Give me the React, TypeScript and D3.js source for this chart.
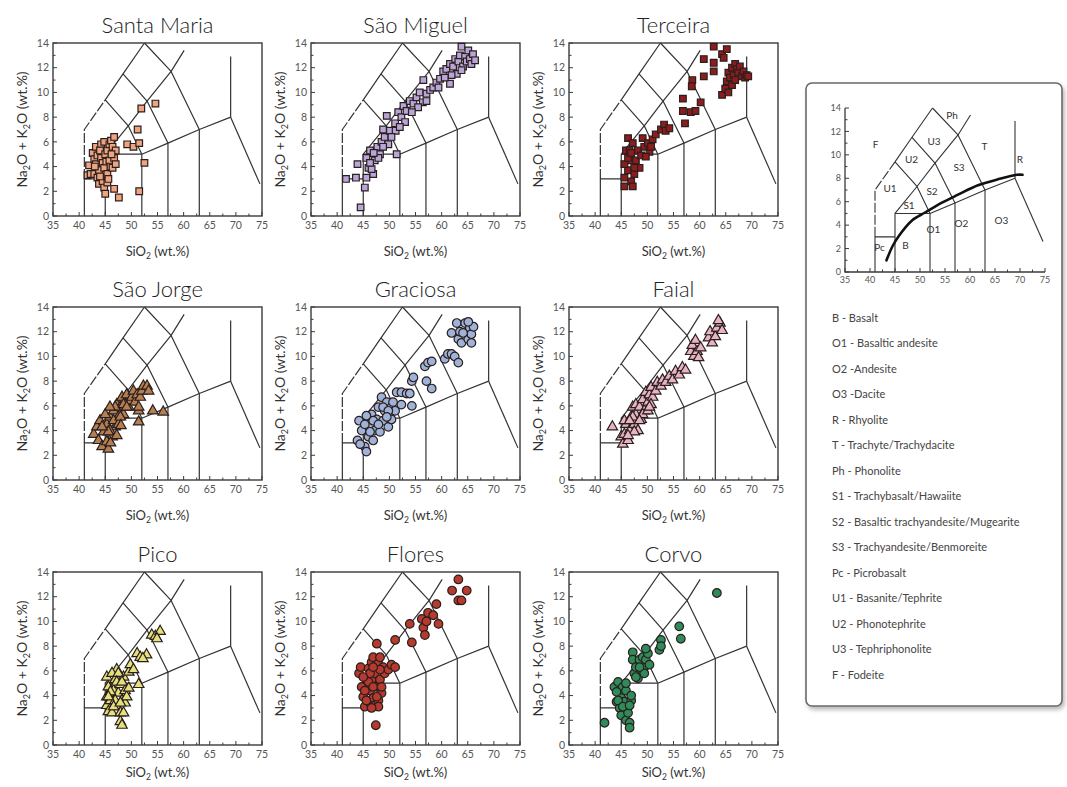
import React from 'react';
import * as d3 from 'd3';

type P = [number, number];

// ---------- DATA (SiO2 wt.%, Na2O+K2O wt.%) ----------
const santaMaria: P[] = [
  [41.6,3.3],[41.9,4.1],[42.2,3.4],[42.6,5.1],[42.9,4.6],[42.9,3.4],[43.2,5.6],[43.2,4.2],[43.5,4.9],[43.5,3.1],
  [43.8,3.7],[43.8,2.6],[44.2,5.8],[44.2,4.7],[44.0,5.3],[44.5,2.8],[44.5,4.3],[44.8,6.0],[44.8,3.9],[44.8,2.3],
  [45.0,5.0],[45.2,4.4],[45.4,5.3],[45.4,3.4],[45.4,2.7],[45.6,3.0],[45.8,4.5],[45.8,5.8],[46.1,6.1],[46.0,4.0],
  [46.4,5.6],[46.4,3.9],[46.7,6.4],[46.7,4.7],[47.0,5.3],[47.0,4.2],[46.2,5.0],[45.0,1.8],[46.7,2.2],[47.6,1.5],
  [49.2,5.8],[50.4,5.6],[51.5,5.9],[51.2,7.0],[51.9,8.7],[54.6,9.1],[52.5,4.3],[51.5,2.0],[43.0,4.0],[44.0,3.2]
];
const saoMiguel: P[] = [
  [41.7,3.0],[43.6,3.1],[43.9,4.2],[44.5,0.7],[45.3,2.3],[45.6,4.7],[46.0,3.9],[46.3,5.3],[46.9,3.4],[47.2,4.5],
  [47.7,5.6],[48.2,5.0],[48.5,6.0],[49.1,6.4],[49.5,8.1],[48.8,7.0],[49.8,5.8],[50.1,6.9],[51.1,7.5],[51.2,6.9],
  [51.4,5.0],[51.7,8.4],[52.3,8.0],[52.7,8.9],[53.3,8.5],[53.9,9.3],[54.6,9.1],[55.2,9.6],[55.8,10.0],[56.4,9.2],
  [56.5,11.0],[57.1,9.9],[57.8,10.2],[58.4,10.4],[59.0,10.8],[59.7,11.1],[60.3,11.7],[60.9,11.9],[61.6,10.7],[61.6,12.3],
  [62.2,12.1],[62.6,12.7],[62.9,11.5],[63.2,12.5],[63.5,13.0],[63.8,13.7],[64.1,12.1],[64.5,12.9],[64.8,12.5],[65.1,13.4],
  [65.4,12.7],[65.7,12.3],[66.0,13.1],[66.4,12.6],[63.8,11.8],[61.9,11.4],[60.6,11.2],[59.4,10.4],[57.1,9.3],[55.5,8.8],
  [54.3,8.4],[53.0,7.6],[52.0,7.2],[50.4,6.4],[48.8,5.6],[47.9,4.7],[46.6,3.8],[45.6,3.1],[46.3,4.3],[47.0,5.1]
];
const terceira: P[] = [
  [45.6,2.4],[46.3,6.3],[45.9,5.3],[46.6,4.5],[46.3,3.7],[46.9,2.8],[47.2,2.4],[47.5,3.4],[45.6,4.2],[45.6,3.1],
  [47.8,4.5],[48.2,5.3],[48.5,3.9],[48.8,4.9],[49.1,6.3],[49.4,5.6],[50.1,5.9],[50.4,5.2],[51.0,6.2],[51.6,6.6],
  [52.6,7.0],[53.2,7.4],[53.5,6.9],[54.2,7.1],[46.6,5.3],[47.2,5.9],[49.7,4.8],[50.7,5.6],[47.5,3.9],[46.3,4.7],
  [46.9,5.1],
  [56.8,9.5],[56.8,8.5],[57.2,7.5],[58.3,8.4],[58.6,11.0],[58.5,10.5],[59.2,8.5],[60.2,9.2],[60.8,12.7],[60.8,11.3],
  [62.7,13.7],[62.7,12.4],[62.7,11.7],[64.3,13.1],[64.6,12.8],[65.2,13.5],[64.3,9.8],[64.9,10.3],[65.2,10.9],[65.5,11.6],
  [65.8,11.2],[66.2,12.0],[66.5,11.4],[66.8,12.3],[67.1,11.9],[67.4,11.6],[67.7,12.1],[68.1,11.3],[68.4,11.7],[68.7,11.2],
  [69.0,11.4],[69.3,11.3],[66.2,10.6],[66.8,11.0],[65.5,10.0]
];
const saoJorge: P[] = [
  [42.8,3.7],[43.4,4.3],[44.0,4.8],[43.7,3.2],[44.4,2.7],[45.6,2.5],[44.7,3.9],[45.3,4.5],[45.9,5.1],[45.0,5.3],
  [46.6,5.6],[46.9,4.3],[46.3,3.5],[45.3,3.1],[47.2,6.1],[47.5,5.1],[47.9,5.9],[48.2,6.7],[48.5,5.3],[48.8,6.1],
  [49.1,6.9],[49.5,5.9],[49.8,6.4],[50.1,6.7],[50.4,7.2],[50.7,6.3],[51.1,6.9],[51.4,5.6],[51.7,6.7],[52.0,7.2],
  [52.3,7.6],[53.0,7.6],[53.3,7.2],[51.4,4.7],[51.4,5.9],[54.1,5.6],[56.1,5.5],[46.6,4.8],[47.5,4.5],[45.9,4.0],
  [46.9,5.9],[45.6,3.9],[47.9,5.1],[48.5,6.1],[49.1,5.9],[45.9,5.9],[44.4,4.3],[47.2,3.6],[48.0,4.4],[46.0,3.0]
];
const graciosa: P[] = [
  [43.9,3.2],[44.2,4.8],[44.7,4.0],[45.3,2.7],[45.6,2.3],[46.0,3.5],[46.3,4.5],[46.6,5.3],[46.9,3.2],[47.2,4.0],
  [47.6,4.9],[47.9,5.9],[48.2,3.9],[48.5,6.7],[48.8,4.8],[49.1,5.6],[49.5,6.3],[49.8,4.3],[50.1,5.1],[50.4,5.9],
  [50.7,6.3],[51.1,5.6],[51.4,7.1],[52.3,7.1],[52.3,6.1],[53.3,7.0],[53.9,7.0],[54.3,6.0],[54.3,8.0],[54.6,8.3],
  [56.8,9.2],[57.4,9.5],[58.1,9.6],[57.1,8.0],[58.1,7.4],[60.6,9.8],[61.2,10.2],[61.9,10.2],[62.5,10.0],[63.2,9.5],
  [61.9,11.9],[62.9,12.7],[63.2,11.4],[63.5,12.0],[63.8,11.1],[64.5,12.7],[64.8,11.9],[65.1,11.4],[65.4,12.3],[65.7,11.8],
  [66.1,12.4],[65.1,12.8],[64.1,11.9],[65.7,11.1],[44.4,2.9],[45.3,4.5],[46.3,3.9],[46.9,4.8],[47.9,4.5],[48.8,5.9],
  [49.8,5.6],[50.4,4.9],[49.5,5.1],[45.6,5.2]
];
const faial: P[] = [
  [43.3,4.3],[45.0,3.5],[45.3,2.9],[45.6,3.7],[45.9,4.5],[45.6,4.8],[46.3,3.2],[46.6,4.0],[46.9,5.1],[47.2,5.9],
  [47.5,4.5],[47.8,5.3],[47.8,6.1],[48.2,4.0],[48.5,5.9],[48.8,4.9],[49.1,6.5],[49.4,5.6],[49.7,7.1],[50.1,6.3],
  [50.4,6.9],[50.7,7.5],[51.0,6.7],[51.6,7.2],[51.9,7.9],[52.6,7.6],[52.9,8.1],[53.5,7.9],[54.2,8.4],[54.8,8.1],
  [55.4,8.8],[56.1,8.5],[56.7,9.1],[57.3,8.9],[58.3,10.4],[58.6,10.9],[58.9,10.0],[59.2,11.3],[59.5,10.4],[59.8,9.9],
  [60.2,10.7],[61.7,11.5],[62.0,12.0],[62.4,11.1],[63.0,11.6],[63.3,12.3],[63.9,12.7],[64.3,12.1],[63.6,12.9],[47.2,5.1],
  [46.6,4.8],[49.1,5.3],[50.1,5.6],[50.7,6.1],[48.5,4.8],[47.5,3.9],[46.3,3.6],[50.4,5.9]
];
const pico: P[] = [
  [45.3,5.5],[45.6,4.7],[45.3,3.9],[45.3,3.2],[45.6,2.7],[46.3,2.6],[46.6,3.6],[46.6,4.4],[46.9,5.3],[47.2,6.1],
  [47.2,3.1],[47.5,4.2],[47.9,4.9],[47.9,2.6],[48.2,3.6],[47.9,1.9],[48.2,1.6],[48.5,5.5],[48.8,4.4],[48.8,3.4],
  [49.1,3.9],[49.5,5.9],[49.8,6.5],[50.4,6.1],[51.1,7.4],[51.7,7.1],[51.4,4.9],[52.9,7.3],[52.2,7.0],[53.9,8.9],
  [54.6,8.8],[55.5,9.2],[54.9,8.6],[46.0,3.6],[46.0,4.3],[46.3,5.8],[46.9,3.6],[47.5,5.8],[47.2,5.1],[48.2,5.1],
  [46.6,3.1],[48.5,2.6],[49.5,4.6],[45.6,3.9],[47.9,3.4]
];
const flores: P[] = [
  [44.2,5.8],[44.5,6.3],[44.7,4.7],[45.0,3.9],[45.3,3.1],[45.6,5.3],[46.0,6.2],[46.3,3.4],[46.3,4.4],[46.6,6.7],
  [46.6,5.3],[46.9,3.8],[46.9,7.1],[47.2,5.8],[47.2,3.2],[47.4,1.6],[47.6,8.2],[47.6,4.7],[47.9,6.6],[47.9,3.6],
  [48.2,7.1],[48.2,5.3],[48.5,4.2],[48.8,6.3],[49.1,5.8],[49.8,6.1],[50.4,6.5],[51.1,6.3],[51.1,8.5],[53.9,9.8],
  [54.3,8.3],[56.2,10.2],[56.5,9.5],[56.8,8.9],[57.1,10.0],[57.4,10.7],[58.4,10.5],[59.0,11.4],[59.4,9.8],[62.0,12.5],
  [63.2,13.4],[63.2,11.7],[63.8,11.7],[64.8,12.5],[45.3,4.4],[45.6,3.6],[46.0,5.1],[46.3,5.8],[46.9,4.7],[47.6,3.9],
  [48.2,6.1],[48.5,4.7],[47.9,3.1],[46.6,3.0],[45.0,5.5],[46.9,6.3]
];
const corvo: P[] = [
  [41.8,1.8],[43.7,4.7],[44.1,3.5],[44.4,5.1],[44.7,4.2],[44.7,3.0],[45.0,3.8],[45.0,2.4],[45.3,4.7],[45.6,3.5],
  [45.9,4.4],[45.9,2.0],[46.3,2.6],[46.6,1.8],[46.6,1.4],[46.9,3.6],[47.2,7.5],[47.2,6.9],[47.5,5.8],[47.8,6.3],
  [48.2,5.4],[48.5,6.9],[48.8,6.1],[49.1,7.1],[49.4,6.3],[49.7,6.9],[50.1,7.4],[49.7,7.8],[49.4,5.8],[50.4,6.5],
  [52.3,7.7],[52.6,8.5],[52.6,8.0],[56.1,9.6],[56.4,8.6],[63.3,12.3],[44.4,3.6],[45.3,3.1],[45.9,5.0],[47.8,5.5],
  [48.5,6.3],[46.6,3.2],[44.1,4.3],[46.9,4.0]
];

const panelNames = ['Santa Maria', 'São Miguel', 'Terceira', 'São Jorge', 'Graciosa', 'Faial', 'Pico', 'Flores', 'Corvo'];
const panelData: P[][] = [santaMaria, saoMiguel, terceira, saoJorge, graciosa, faial, pico, flores, corvo];
const panelShapes = ['square', 'square', 'square', 'triangle', 'circle', 'triangle', 'triangle', 'circle', 'circle'];
const panelColors = ['#eea47e', '#b9a6d8', '#8c1d1d', '#b57f50', '#9fb3d8', '#e8b4c4', '#e4e07a', '#b63a2e', '#2f8c5a'];

const xTicks = [35, 40, 45, 50, 55, 60, 65, 70, 75];
const yTicks = [0, 2, 4, 6, 8, 10, 12, 14];

// TAS (Le Bas et al.) field boundaries
const tasSolid: P[][] = [
  [[41, 0], [41, 3], [45, 3]],
  [[45, 0], [45, 5], [52, 5]],
  [[52, 0], [52, 5]],
  [[52, 5], [57, 5.9], [63, 7], [69, 8]],
  [[57, 0], [57, 5.9]],
  [[63, 0], [63, 7]],
  [[69, 8], [69, 12.9]],
  [[69, 8], [74.6, 2.6]],
  [[45, 5], [49.4, 7.3], [53, 9.3], [57.6, 11.7], [60.1, 13.4]],
  [[52, 5], [49.4, 7.3], [45, 9.4]],
  [[57, 5.9], [53, 9.3], [48.4, 11.5]],
  [[63, 7], [57.6, 11.7], [52.5, 14]],
  [[45, 9.4], [48.4, 11.5], [52.5, 14]],
];
const tasDashed: P[][] = [
  [[41, 3], [41, 7], [45, 9.4]],
];

// legend diagram
const alkalineCurve: P[] = [[43.3, 1.0], [44.5, 2.2], [45.8, 3.1], [48.4, 4.4], [51.1, 5.1], [54.3, 5.9], [57.6, 6.6], [61.6, 7.4], [65.5, 7.9], [69.4, 8.3], [70.5, 8.3]];
const fieldCodes = ['Ph', 'U3', 'F', 'U2', 'T', 'R', 'S3', 'U1', 'S2', 'S1', 'O3', 'O2', 'O1', 'Pc', 'B'];
const fieldSi = [56.4, 52.8, 41.1, 48.3, 62.9, 70.0, 57.8, 44.0, 52.4, 47.8, 66.3, 58.3, 52.7, 41.9, 47.1];
const fieldAlk = [13.4, 11.1, 10.9, 9.6, 10.7, 9.6, 8.9, 7.1, 6.9, 5.7, 4.4, 4.1, 3.6, 2.1, 2.3];

const legendItems = [
  'B - Basalt',
  'O1 - Basaltic andesite',
  'O2 -Andesite',
  'O3 -Dacite',
  'R - Rhyolite',
  'T - Trachyte/Trachydacite',
  'Ph - Phonolite',
  'S1 - Trachybasalt/Hawaiite',
  'S2 - Basaltic trachyandesite/Mugearite',
  'S3 - Trachyandesite/Benmoreite',
  'Pc - Picrobasalt',
  'U1 - Basanite/Tephrite',
  'U2 - Phonotephrite',
  'U3 - Tephriphonolite',
  'F - Fodeite',
];

// ---------- LAYOUT ----------
const W = 1067, H = 787;
const FONT = "'Lato', 'Noto Sans', sans-serif";
const colLeft = [53, 311, 569];
const rowTop = [43, 307, 572];
const plotW = 209, plotH = 173;
const xLabelOff = [35, 35, 27];

function symbolPath(shape: string): string {
  const t = shape === 'square' ? d3.symbolSquare : shape === 'triangle' ? d3.symbolTriangle : d3.symbolCircle;
  const size = shape === 'square' ? 44 : shape === 'triangle' ? 48 : 58;
  return d3.symbol().type(t).size(size)() as string;
}

function Axes({ x, y, tickFont, frame }: { x: d3.ScaleLinear<number, number>; y: d3.ScaleLinear<number, number>; tickFont: number; frame: boolean }) {
  const [x0, x1] = x.range();
  const [y0, y1] = y.range();
  const minorX = d3.range(35, 75.01, 2.5);
  const minorY = d3.range(0, 14.01, 1);
  return (
    <g>
      {frame ? (
        <rect x={x0} y={y1} width={x1 - x0} height={y0 - y1} fill="none" stroke="#3a3a3a" strokeWidth={1.4} />
      ) : (
        <path d={`M${x0},${y1}V${y0}H${x1}`} fill="none" stroke="#3a3a3a" strokeWidth={1.3} />
      )}
      {minorX.map((v) => (
        <line key={'mx' + v} x1={x(v)} x2={x(v)} y1={y0} y2={y0 - (v % 5 === 0 ? 4 : 2.5)} stroke="#3a3a3a" strokeWidth={1} />
      ))}
      {minorY.map((v) => (
        <line key={'my' + v} x1={x0} x2={x0 + (v % 2 === 0 ? 4 : 2.5)} y1={y(v)} y2={y(v)} stroke="#3a3a3a" strokeWidth={1} />
      ))}
      {xTicks.map((v) => (
        <text key={'xt' + v} x={x(v)} y={y0 + tickFont + 2} textAnchor="middle" fontSize={tickFont} fill="#555" fontFamily={FONT}>{v}</text>
      ))}
      {yTicks.map((v) => (
        <text key={'yt' + v} x={x0 - 4} y={y(v)} dy="0.35em" textAnchor="end" fontSize={tickFont} fill="#555" fontFamily={FONT}>{v}</text>
      ))}
    </g>
  );
}

function TasLines({ x, y, sw }: { x: d3.ScaleLinear<number, number>; y: d3.ScaleLinear<number, number>; sw: number }) {
  const line = d3.line<P>().x((d) => x(d[0])).y((d) => y(d[1]));
  return (
    <g fill="none" stroke="#333" strokeWidth={sw} strokeLinejoin="round">
      {tasSolid.map((l, i) => <path key={'s' + i} d={line(l) as string} />)}
      {tasDashed.map((l, i) => <path key={'d' + i} d={line(l) as string} strokeDasharray="10,2" />)}
    </g>
  );
}

function Panel({ idx }: { idx: number }) {
  const col = idx % 3, row = Math.floor(idx / 3);
  const left = colLeft[col], top = rowTop[row];
  const x = d3.scaleLinear().domain([35, 75]).range([left, left + plotW]);
  const y = d3.scaleLinear().domain([0, 14]).range([top + plotH, top]);
  const sym = symbolPath(panelShapes[idx]);
  const cx = left + plotW / 2;
  const cy = top + plotH / 2;
  const yl = left - 31;
  return (
    <g>
      <text x={cx} y={top - 10} textAnchor="middle" fontSize={22} fontWeight={300} fill="#222" fontFamily={FONT}>{panelNames[idx]}</text>
      <TasLines x={x} y={y} sw={1.2} />
      <Axes x={x} y={y} tickFont={10.5} frame={true} />
      <g>
        {panelData[idx].map((d, i) => (
          <path key={i} d={sym} transform={`translate(${x(d[0])},${y(d[1])})`} fill={panelColors[idx]} stroke="#2a1e1e" strokeWidth={1.2} />
        ))}
      </g>
      <text x={cx} y={top + plotH + xLabelOff[row]} dy="0.35em" textAnchor="middle" fontSize={13} fill="#333" fontFamily={FONT}>
        SiO<tspan fontSize={8.5} dy={3}>2</tspan><tspan dy={-3}> (wt.%)</tspan>
      </text>
      <text transform={`translate(${yl},${cy}) rotate(-90)`} dy="0.35em" textAnchor="middle" fontSize={14} fill="#333" fontFamily={FONT}>
        Na<tspan fontSize={9} dy={3}>2</tspan><tspan dy={-3}>O + K</tspan><tspan fontSize={9} dy={3}>2</tspan><tspan dy={-3}>O (wt.%)</tspan>
      </text>
    </g>
  );
}

function LegendPanel() {
  const bx = 806, by = 83, bw = 256, bh = 623;
  const x = d3.scaleLinear().domain([35, 75]).range([845, 1045]);
  const y = d3.scaleLinear().domain([0, 14]).range([272, 108]);
  const curve = d3.line<P>().x((d) => x(d[0])).y((d) => y(d[1])).curve(d3.curveCatmullRom);
  return (
    <g>
      <rect x={bx} y={by} width={bw} height={bh} rx={6} fill="#fff" stroke="#6a6a6a" strokeWidth={1.6} filter="url(#shadow)" />
      <TasLines x={x} y={y} sw={1.1} />
      <Axes x={x} y={y} tickFont={9} frame={false} />
      <path d={curve(alkalineCurve) as string} fill="none" stroke="#111" strokeWidth={2.6} strokeLinecap="round" />
      {fieldCodes.map((c, i) => (
        <text key={c} x={x(fieldSi[i])} y={y(fieldAlk[i])} dy="0.35em" textAnchor="middle" fontSize={10} fill="#333" fontFamily={FONT}>{c}</text>
      ))}
      {legendItems.map((t, i) => (
        <text key={t} x={832} y={318 + i * 25.5} dy="0.35em" fontSize={11} fill="#444" fontFamily={FONT}>{t}</text>
      ))}
    </g>
  );
}

export default function App() {
  return (
    <svg width={W} height={H} viewBox={`0 0 ${W} ${H}`} style={{ position: 'absolute', left: 0, top: 0, background: '#fff' }}>
      <defs>
        <filter id="shadow" x="-10%" y="-10%" width="120%" height="120%">
          <feDropShadow dx={2} dy={3} stdDeviation={2} floodColor="#888" floodOpacity={0.6} />
        </filter>
      </defs>
      <rect x={0} y={0} width={W} height={H} fill="#fff" />
      {panelNames.map((_, i) => <Panel key={i} idx={i} />)}
      <LegendPanel />
    </svg>
  );
}
